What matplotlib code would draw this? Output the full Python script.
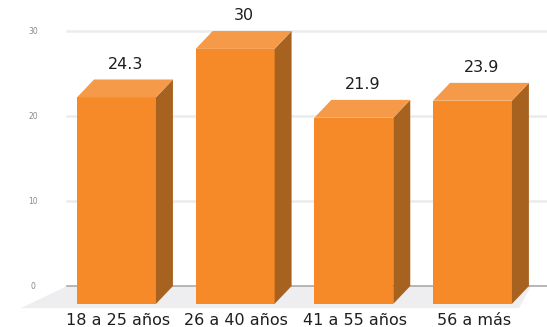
import matplotlib
matplotlib.use("Agg")
import matplotlib.pyplot as plt
from matplotlib.patches import Polygon

# data
categories = ["18 a 25 años", "26 a 40 años", "41 a 55 años", "56 a más"]
values = [24.3, 30, 21.9, 23.9]
yticks = [0, 10, 20, 30]

# 3d look (offsets in data units)
bar_w = 0.665
dx = 0.143
dy = 2.1

front_c = "#f78a28"
top_c = "#f49a48"
side_c = "#a8621f"

fig = plt.figure(figsize=(5.47, 3.27), dpi=100)
ax = fig.add_axes([0, 0, 1, 1])
ax.set_xlim(-1.125, 3.485)
ax.set_ylim(-4.82, 33.65)
ax.axis("off")

# floor
floor = Polygon([(-0.56, 0), (3.35, 0), (3.25, -2.6), (-0.95, -2.6)],
                closed=True, facecolor="#eeeef1", edgecolor="none", zorder=1)
ax.add_patch(floor)

# gridlines on back wall
for t in yticks:
    if t == 0:
        ax.plot([-0.56, 3.485], [0, 0], color="#aaaaaa", lw=1.2, zorder=2)
    else:
        ax.plot([-0.56, 3.485], [t, t], color="#ececec", lw=1.8, zorder=2)
    ax.text(-0.847, t, str(t), ha="center", va="center",
            fontsize=5.5, color="#8a8a8a")

# bars
for i, v in enumerate(values):
    x0 = i - bar_w / 2 - dx
    x1 = i + bar_w / 2 - dx
    y0 = -dy
    y1 = v - dy
    front = Polygon([(x0, y0), (x1, y0), (x1, y1), (x0, y1)],
                    facecolor=front_c, edgecolor="none", zorder=3)
    top = Polygon([(x0, y1), (x1, y1), (x1 + dx, v), (x0 + dx, v)],
                  facecolor=top_c, edgecolor="none", zorder=3)
    side = Polygon([(x1, y0), (x1 + dx, 0), (x1 + dx, v), (x1, y1)],
                   facecolor=side_c, edgecolor="none", zorder=3)
    for p in (front, side, top):
        ax.add_patch(p)
    ax.text(i - dx / 2 + 0.005, v + 1.8, f"{v:g}", ha="center", va="center",
            fontsize=11.5, color="#1e1e1e", zorder=4)
    ax.text(i - dx + 0.01, -4.0, categories[i], ha="center", va="center",
            fontsize=11.5, color="#1e1e1e", zorder=4)

fig.savefig("out.png", dpi=100)
